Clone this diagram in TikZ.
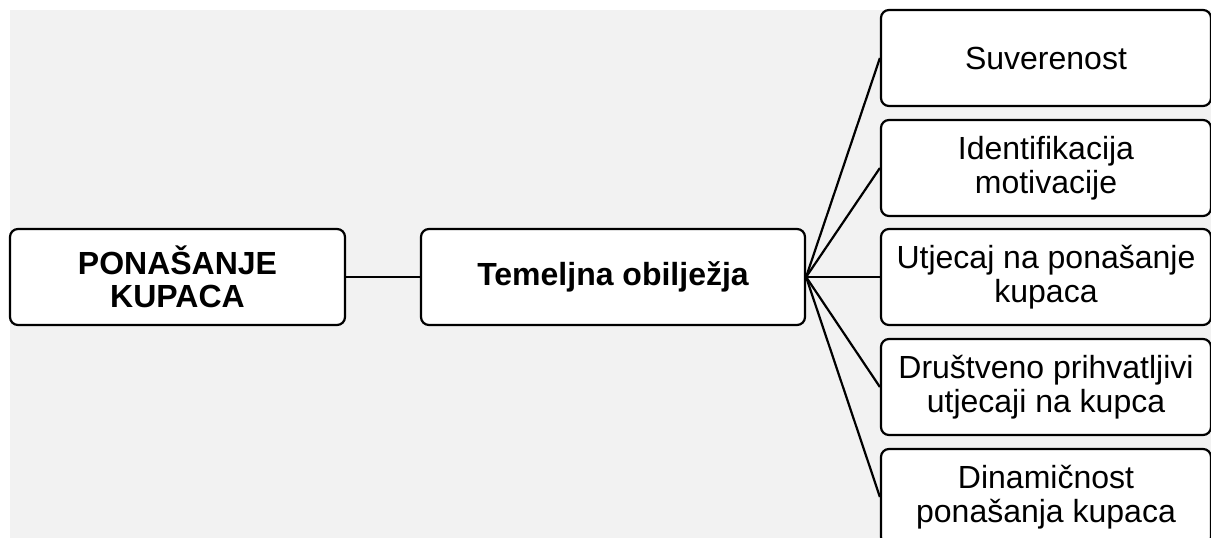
\documentclass[tikz,border=0pt]{standalone}
\usepackage{fontspec}
\setmainfont{Liberation Sans}
\definecolor{pozadina}{HTML}{F2F2F2}
\begin{document}
\begin{tikzpicture}[x=1pt,y=-1pt,
    okvir/.style={draw=black,line width=2.2pt,fill=white,rounded corners=8pt,
      align=center,inner sep=0pt,minimum height=96pt,
      font=\fontsize{32}{33.5}\selectfont},
    glavni/.style={okvir,font=\fontsize{32}{33.5}\selectfont\bfseries},
    veza/.style={draw=black,line width=2.2pt}]
      \clip (0,0) rectangle (1211,538);
      \fill[pozadina] (10,10) rectangle (1211,538);
      \node[glavni,minimum width=335pt] (kupci)      at (177.5,277) {PONAŠANJE\\KUPACA};
      \node[glavni,minimum width=384pt] (obiljezja)  at (613,277)   {Temeljna obilježja};
      \node[okvir,minimum width=330pt]  (suverenost) at (1046,58)   {Suverenost};
      \node[okvir,minimum width=330pt]  (motivacija) at (1046,168)  {Identifikacija\\motivacije};
      \node[okvir,minimum width=330pt]  (utjecaj)    at (1046,277)  {Utjecaj na ponašanje\\kupaca};
      \node[okvir,minimum width=330pt]  (drustvo)    at (1046,387)  {Društveno prihvatljivi\\utjecaji na kupca};
      \node[okvir,minimum width=330pt]  (dinamika)   at (1046,497)  {Dinamičnost\\ponašanja kupaca};
      \draw[veza] (kupci.east) -- (obiljezja.west);
      \draw[veza] (obiljezja.east) -- (suverenost.west);
      \draw[veza] (obiljezja.east) -- (motivacija.west);
      \draw[veza] (obiljezja.east) -- (utjecaj.west);
      \draw[veza] (obiljezja.east) -- (drustvo.west);
      \draw[veza] (obiljezja.east) -- (dinamika.west);
\end{tikzpicture}
\end{document}
